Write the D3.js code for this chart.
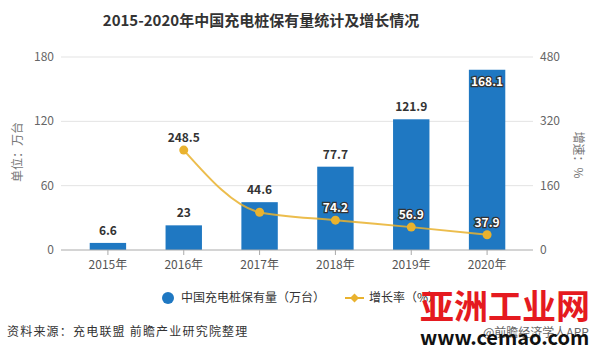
<!DOCTYPE html>
<html>
<head>
<meta charset="utf-8">
<script src="https://cdn.jsdelivr.net/npm/d3@7"></script>
<style>
  body { margin: 0; background: #fff; }
  text { font-family: "Microsoft YaHei", "Noto Sans CJK SC", sans-serif; }
</style>
</head>
<body>
<svg id="chart" width="600" height="352"></svg>
<script>
// data
const years = ["2015年", "2016年", "2017年", "2018年", "2019年", "2020年"];
const stock = [6.6, 23, 44.6, 77.7, 121.9, 168.1];
const growth = [null, 248.5, 93.9, 74.2, 56.9, 37.9];
const growthLabels = [null, "248.5", null, "74.2", "56.9", "37.9"];
const leftTicks = [0, 60, 120, 180];
const rightTicks = [0, 160, 320, 480];

const svg = d3.select("#chart");
const plotLeft = 61, plotRight = 533, plotTop = 57, plotBottom = 250;

const x = d3.scaleBand().domain(years).range([70, 525]).padding(0);
const yL = d3.scaleLinear().domain([0, 180]).range([plotBottom, plotTop]);
const yR = d3.scaleLinear().domain([0, 480]).range([plotBottom, plotTop]);
const barW = x.bandwidth() * 0.48;
const cx = d => x(d) + x.bandwidth() / 2;

// Title
svg.append("text")
  .attr("x", 261).attr("y", 26)
  .attr("text-anchor", "middle")
  .style("font-size", "15px").style("font-weight", "bold")
  .attr("fill", "#333")
  .text("2015-2020年中国充电桩保有量统计及增长情况");

// Gridlines
svg.append("g").selectAll("line")
  .data(leftTicks.slice(1))
  .enter().append("line")
  .attr("x1", plotLeft).attr("x2", plotRight)
  .attr("y1", d => yL(d)).attr("y2", d => yL(d))
  .attr("stroke", "#e3e3e3").attr("stroke-width", 1);

// Left ticks
svg.append("g").selectAll("text")
  .data(leftTicks)
  .enter().append("text")
  .attr("x", 54).attr("y", d => yL(d) + 4)
  .attr("text-anchor", "end")
  .style("font-size", "12px").attr("fill", "#666")
  .text(d => d);

// Right ticks
svg.append("g").selectAll("text")
  .data(rightTicks)
  .enter().append("text")
  .attr("x", 540).attr("y", d => yR(d) + 4)
  .style("font-size", "12px").attr("fill", "#666")
  .text(d => d);

// Axis titles
svg.append("text")
  .attr("transform", "translate(22,152) rotate(-90)")
  .attr("text-anchor", "middle")
  .style("font-size", "12px").attr("fill", "#777")
  .text("单位：万台");

svg.append("text")
  .attr("transform", "translate(574,155) rotate(90)")
  .attr("text-anchor", "middle")
  .style("font-size", "12px").attr("fill", "#777")
  .text("增速：%");

// Bars
svg.append("g").selectAll("rect")
  .data(stock)
  .enter().append("rect")
  .attr("x", (d, i) => cx(years[i]) - barW / 2)
  .attr("y", d => yL(d))
  .attr("width", barW)
  .attr("height", d => plotBottom - yL(d))
  .attr("fill", "#1f78c2");

// X axis
const xAxis = svg.append("g")
  .attr("transform", `translate(0,${plotBottom})`);
xAxis.append("line")
  .attr("x1", plotLeft).attr("x2", plotRight)
  .attr("stroke", "#aaa");
xAxis.selectAll(".tick")
  .data(years)
  .enter().append("line")
  .attr("x1", d => cx(d)).attr("x2", d => cx(d))
  .attr("y1", 0).attr("y2", 5)
  .attr("stroke", "#aaa");
xAxis.selectAll("text")
  .data(years)
  .enter().append("text")
  .attr("x", d => cx(d)).attr("y", 19)
  .attr("text-anchor", "middle")
  .style("font-size", "12px").attr("fill", "#555")
  .text(d => d);

// Bar labels
svg.append("g").selectAll("text")
  .data(stock)
  .enter().append("text")
  .attr("x", (d, i) => cx(years[i]))
  .attr("y", (d, i) => i === stock.length - 1 ? yL(d) + 16 : yL(d) - 8)
  .attr("text-anchor", "middle")
  .style("font-size", "12px").style("font-weight", "bold")
  .attr("fill", (d, i) => i === stock.length - 1 ? "#fff" : "#333")
  .attr("stroke", (d, i) => i === stock.length - 1 ? "#333" : "none")
  .attr("stroke-width", 2.5)
  .style("paint-order", "stroke")
  .text(d => d);

// Growth line
const pts = growth.map((v, i) => ({ year: years[i], v: v, label: growthLabels[i] }))
  .filter(d => d.v !== null);

svg.append("path")
  .datum(pts)
  .attr("fill", "none")
  .attr("stroke", "#e9b22e")
  .attr("stroke-opacity", 0.85)
  .attr("stroke-width", 2)
  .attr("d", d3.line().x(d => cx(d.year)).y(d => yR(d.v)).curve(d3.curveMonotoneX));

svg.append("g").selectAll("circle")
  .data(pts)
  .enter().append("circle")
  .attr("cx", d => cx(d.year)).attr("cy", d => yR(d.v))
  .attr("r", 4.5)
  .attr("fill", "#e9b22e");

svg.append("g").selectAll("text")
  .data(pts.filter(d => d.label))
  .enter().append("text")
  .attr("x", d => cx(d.year)).attr("y", d => yR(d.v) - 8)
  .attr("text-anchor", "middle")
  .style("font-size", "12px").style("font-weight", "bold")
  .attr("fill", d => d.v > 200 ? "#333" : "#fff")
  .attr("stroke", d => d.v > 200 ? "none" : "#333")
  .attr("stroke-width", 2.5)
  .style("paint-order", "stroke")
  .text(d => d.label);

// Legend
const legend = svg.append("g");
legend.append("circle")
  .attr("cx", 168).attr("cy", 298).attr("r", 6)
  .attr("fill", "#1f78c2");
legend.append("text")
  .attr("x", 181).attr("y", 302)
  .style("font-size", "12px").attr("fill", "#333")
  .text("中国充电桩保有量（万台）");
legend.append("line")
  .attr("x1", 345).attr("x2", 364).attr("y1", 298).attr("y2", 298)
  .attr("stroke", "#e9b22e").attr("stroke-width", 2);
legend.append("path")
  .attr("d", "M354.5,293.5 L359,298 L354.5,302.5 L350,298 Z")
  .attr("fill", "#e9b22e");
legend.append("text")
  .attr("x", 369).attr("y", 302)
  .style("font-size", "12px").attr("fill", "#333")
  .text("增长率（%）");

// Source
svg.append("text")
  .attr("x", 7).attr("y", 336)
  .style("font-size", "12px").attr("fill", "#333")
  .style("letter-spacing", "1.2px")
  .text("资料来源：充电联盟 前瞻产业研究院整理");

// Watermarks
svg.append("text")
  .attr("x", 483).attr("y", 337)
  .style("font-size", "12px").attr("fill", "#666")
  .text("@前瞻经济学人APP");
svg.append("text")
  .attr("x", 420).attr("y", 319)
  .style("font-size", "34px").style("font-weight", "bold")
  .attr("fill", "#e51a20")
  .text("亚洲工业网");
svg.append("text")
  .attr("x", 420).attr("y", 345)
  .style("font-size", "20px").style("font-weight", "bold")
  .attr("fill", "#111")
  .text("www.cemao.com");
</script>
</body>
</html>
